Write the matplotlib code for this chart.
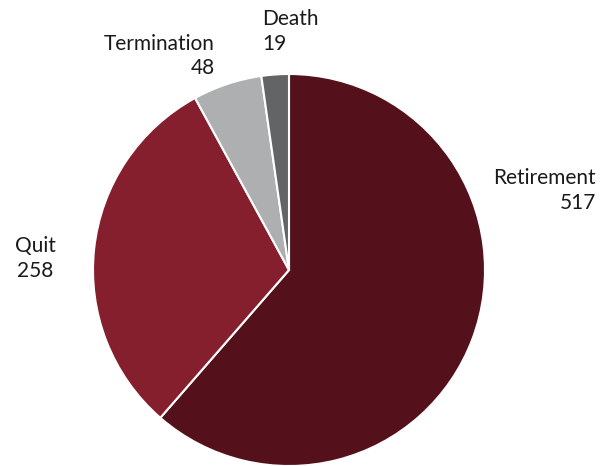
import matplotlib
matplotlib.use("Agg")
import matplotlib.pyplot as plt

categories = ["Retirement", "Quit", "Termination", "Death"]
values = [517, 258, 48, 19]
colors = ["#54111b", "#861f2d", "#adafb1", "#636466"]

W, H = 609, 466
fig = plt.figure(figsize=(W / 100, H / 100), dpi=100)
plt.rcParams['font.family'] = ['Lato', 'DejaVu Sans']

cx, cy, r = 289, 270, 196
ax = fig.add_axes([(cx - r) / W, (H - cy - r) / H, 2 * r / W, 2 * r / H])
ax.pie(values, colors=colors, startangle=90, counterclock=False, radius=1,
       wedgeprops=dict(edgecolor="white", linewidth=1.5))
ax.set_xlim(-1, 1)
ax.set_ylim(-1, 1)
ax.set_aspect("equal")
ax.axis("off")
for p in ax.patches:
    p.set_clip_on(False)

def label(x, y, s, ha):
    fig.text(x / W, 1 - y / H, s, ha=ha, va="center", fontsize=15,
             color="#1a1a1a")

label(596, 178, categories[0], "right"); label(596, 203, str(values[0]), "right")
label(35, 246, categories[1], "center"); label(35, 271, str(values[1]), "center")
label(215, 44, categories[2], "right"); label(215, 68, str(values[2]), "right")
label(262, 19, categories[3], "left"); label(262, 44, str(values[3]), "left")

fig.savefig("out.png", dpi=100)
